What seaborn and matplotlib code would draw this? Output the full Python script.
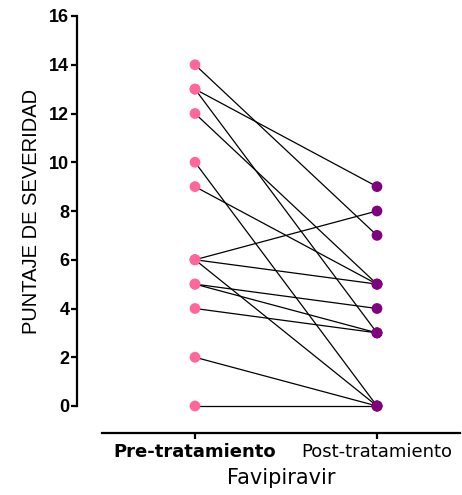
import matplotlib
matplotlib.use("Agg")
import matplotlib.pyplot as plt
import seaborn as sns
import pandas as pd

categories = ["Pre-tratamiento", "Post-tratamiento"]
pre_scores = [14, 13, 13, 12, 10, 9, 6, 6, 6, 5, 5, 4, 2, 0]
post_scores = [7, 9, 3, 5, 0, 5, 8, 5, 0, 4, 3, 3, 0, 0]
y_ticks = [0, 2, 4, 6, 8, 10, 12, 14, 16]
colors = ["#FF6699", "#800080"]

rows = []
for i, (a, b) in enumerate(zip(pre_scores, post_scores)):
    rows.append({"patient": i, "time": categories[0], "score": a})
    rows.append({"patient": i, "time": categories[1], "score": b})
df = pd.DataFrame(rows)

sns.set_style("ticks")
plt.rcParams['font.family'] = ['Liberation Sans', 'DejaVu Sans']
plt.rcParams['text.color'] = 'black'
plt.rcParams['axes.labelcolor'] = 'black'
plt.rcParams['xtick.color'] = 'black'
plt.rcParams['ytick.color'] = 'black'
plt.rcParams['axes.edgecolor'] = 'black'

fig = plt.figure(figsize=(4.62, 4.95), dpi=100)
ax = fig.add_axes([102/462, 89/495, 358/462, 390/495])

sns.lineplot(data=df, x="time", y="score", units="patient", estimator=None,
             color="black", linewidth=0.9, ax=ax, legend=False, sort=False)
sns.scatterplot(data=df, x="time", y="score", hue="time", palette=colors,
                s=60, edgecolor="none", ax=ax, legend=False, zorder=3)
for ln in ax.lines:
    ln.set_clip_on(False)
for c in ax.collections:
    c.set_clip_on(False)

ax.set_xlim(-93/182, 1 + 83/182)
ax.set_ylim(0, 16)
ax.set_yticks(y_ticks)
ax.set_xticks([0, 1])

ax.spines['top'].set_visible(False)
ax.spines['right'].set_visible(False)
ax.spines['left'].set_position(('outward', 18))
ax.spines['bottom'].set_position(('outward', 19.4))
for s in ['left', 'bottom']:
    ax.spines[s].set_linewidth(1.6)
ax.tick_params(axis='both', width=1.6, length=4, colors='black', pad=1.5)
ax.tick_params(axis='y', labelsize=13)
ax.tick_params(axis='x', labelsize=13, pad=3)

ax.set_ylabel("PUNTAJE DE SEVERIDAD", fontsize=14.5, labelpad=6, color='black')
ax.set_xlabel("Favipiravir", fontsize=15, family="DejaVu Sans", labelpad=5, color='black')

fig.canvas.draw()
ax.set_yticks(y_ticks, [str(t) for t in y_ticks])
ax.set_xticks([0, 1], categories)
for t in ax.yaxis.get_major_ticks():
    t.label1.set_fontweight("bold")
    t.label1.set_fontsize(13)
    t.label1.set_color("black")
for t, w in zip(ax.xaxis.get_major_ticks(), ["bold", "normal"]):
    t.label1.set_family("DejaVu Sans")
    t.label1.set_fontsize(13)
    t.label1.set_fontweight(w)
    t.label1.set_color("black")

fig.savefig("out.png", dpi=100)
